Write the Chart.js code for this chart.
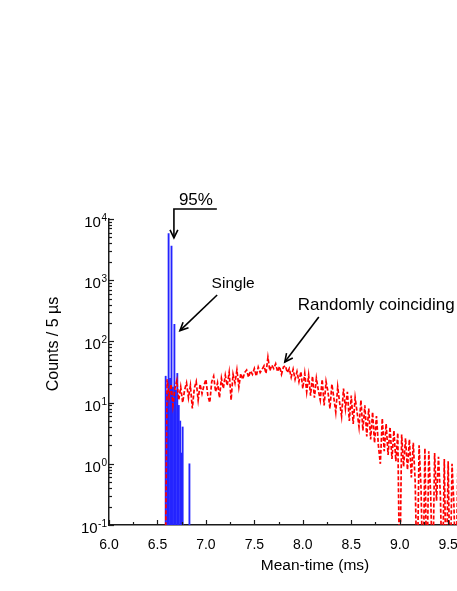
<!DOCTYPE html>
<html>
<head>
<meta charset="utf-8">
<script src="https://cdn.jsdelivr.net/npm/chart.js@4.4.0/dist/chart.umd.min.js"></script>
<style>
  html, body { margin: 0; padding: 0; background: #fff; overflow: hidden; }
  #wrap { width: 530px; height: 591px; }
</style>
</head>
<body>
<div id="wrap"><canvas id="chart" width="530" height="591"></canvas></div>
<script>
'use strict';

// ***** DATA *****
// single events (blue histogram), mean-time in ms
const singleTime = [6.585, 6.600, 6.615, 6.630, 6.645, 6.660, 6.675, 6.690, 6.705, 6.720, 6.735, 6.750, 6.760, 6.830];
const singleCounts = [27, 14, 5800, 25, 3600, 18, 190, 16, 30, 9, 5, 1.5, 4, 1];

// randomly coinciding events (red dashed); 0.01 = empty bin, below the axis
const randomTime = [
  6.58, 6.60, 6.62, 6.64, 6.66, 6.68, 6.70, 6.72, 6.74, 6.76,
  6.78, 6.80, 6.82, 6.84, 6.86, 6.88, 6.90, 6.92, 6.94, 6.96,
  6.98, 7.00, 7.02, 7.04, 7.06, 7.08, 7.10, 7.12, 7.14, 7.16,
  7.18, 7.20, 7.22, 7.24, 7.26, 7.28, 7.30, 7.32, 7.34, 7.36,
  7.38, 7.40, 7.42, 7.44, 7.46, 7.48, 7.50, 7.52, 7.54, 7.56,
  7.58, 7.60, 7.62, 7.64, 7.66, 7.68, 7.70, 7.72, 7.74, 7.76,
  7.78, 7.80, 7.82, 7.84, 7.86, 7.88, 7.90, 7.92, 7.94, 7.96,
  7.98, 8.00, 8.02, 8.04, 8.06, 8.08, 8.10, 8.12, 8.14, 8.16,
  8.18, 8.20, 8.22, 8.24, 8.26, 8.28, 8.30, 8.32, 8.34, 8.36,
  8.38, 8.40, 8.42, 8.44, 8.46, 8.48, 8.50, 8.52, 8.54, 8.56,
  8.58, 8.60, 8.62, 8.64, 8.66, 8.68, 8.70, 8.72, 8.74, 8.76,
  8.78, 8.80, 8.82, 8.84, 8.86, 8.88, 8.90, 8.92, 8.94, 8.96,
  8.98, 9.00, 9.02, 9.04, 9.06, 9.08, 9.10, 9.12, 9.14, 9.16,
  9.18, 9.20, 9.22, 9.24, 9.26, 9.28, 9.30, 9.32, 9.34, 9.36,
  9.38, 9.40, 9.42, 9.44, 9.46, 9.48, 9.50, 9.52, 9.54, 9.56,
  9.58, 9.60
];
const randomCounts = [
  0.01, 24, 12, 20, 9, 17, 23, 11, 18, 10,
  16, 21, 12, 19, 8, 17, 22, 11, 20, 14,
  19, 24, 13, 10, 22, 27, 15, 21, 12, 25,
  17, 28, 19, 31, 11, 29, 21, 34, 18, 30,
  24, 31, 34, 26, 33, 29, 36, 27, 38, 31,
  35, 40, 30, 55, 33, 41, 36, 43, 32, 39,
  29, 38, 40, 31, 36, 26, 35, 24, 32, 22,
  32, 17, 30, 15, 28, 13, 27, 12, 25, 16,
  11, 24, 9, 22, 15, 8, 20, 12, 7, 18,
  10, 6, 17, 8, 15, 5, 13, 4.5, 12, 7,
  4, 11, 3.5, 9, 2.8, 8, 2.5, 7, 2.2, 6,
  2, 1, 5.5, 1.6, 4.5, 1.4, 4, 1.2, 3.5, 1.1,
  3.2, 0.01, 3, 0.9, 2.6, 0.8, 2.5, 0.6, 2.2, 0.5,
  0.01, 2.0, 0.4, 0.01, 1.8, 0.01, 1.6, 0.3, 0.01, 1.5,
  0.25, 1.3, 0.3, 0.01, 1.2, 0.01, 1.1, 0.01, 1.0, 0.2,
  0.01, 0.9
];

const xTickValues = [6.0, 6.5, 7.0, 7.5, 8.0, 8.5, 9.0, 9.5, 10.0];
const xTickLabels = ['6.0', '6.5', '7.0', '7.5', '8.0', '8.5', '9.0', '9.5', '10.0'];
const yTickValues = [0.1, 1, 10, 100, 1000, 10000];
const yTickExponents = ['-1', '0', '1', '2', '3', '4'];

// annotations, placed in data units (ms, counts)
const notes = [
  { text: '95%', x: 6.897, y: 16900, size: 17, align: 'center' },
  { text: 'Single', x: 7.059, y: 745, size: 15.5, align: 'left' },
  { text: 'Randomly coinciding', x: 7.948, y: 326, size: 17, align: 'left' }
];
const arrows = [
  [[7.113, 14560], [6.670, 14560], [6.670, 4900]],
  [[7.116, 573], [6.732, 150]],
  [[8.165, 250], [7.814, 46]]
];

const FONT = '"Liberation Sans", Arial, sans-serif';

// ***** HELPERS *****
function toPx(chart, p) {
  return [chart.scales.x.getPixelForValue(p[0]), chart.scales.y.getPixelForValue(p[1])];
}

function drawArrow(ctx, pts) {
  ctx.beginPath();
  ctx.moveTo(pts[0][0], pts[0][1]);
  for (let i = 1; i < pts.length; i++) {
    ctx.lineTo(pts[i][0], pts[i][1]);
  }
  ctx.stroke();
  let a = pts[pts.length - 2];
  let b = pts[pts.length - 1];
  let ang = Math.atan2(b[1] - a[1], b[0] - a[0]);
  let len = 9;
  let spread = 0.45;
  ctx.beginPath();
  ctx.moveTo(b[0] - len * Math.cos(ang - spread), b[1] - len * Math.sin(ang - spread));
  ctx.lineTo(b[0], b[1]);
  ctx.lineTo(b[0] - len * Math.cos(ang + spread), b[1] - len * Math.sin(ang + spread));
  ctx.stroke();
}

// inward ticks, y labels with exponents, axis titles and arrows
const decorPlugin = {
  id: 'decor',
  afterDraw(chart) {
    const ctx = chart.ctx;
    const area = chart.chartArea;
    const xs = chart.scales.x;
    const ys = chart.scales.y;
    ctx.save();
    ctx.strokeStyle = '#1a1a1a';
    ctx.fillStyle = '#000';
    ctx.lineWidth = 1.2;

    // x ticks
    for (let i = 0; i < xTickValues.length; i++) {
      let p = Math.round(xs.getPixelForValue(xTickValues[i])) + 0.5;
      ctx.beginPath();
      ctx.moveTo(p, area.bottom);
      ctx.lineTo(p, area.bottom - 5);
      ctx.stroke();
      if (i < xTickValues.length - 1) {
        let m = Math.round(xs.getPixelForValue((xTickValues[i] + xTickValues[i + 1]) / 2)) + 0.5;
        ctx.beginPath();
        ctx.moveTo(m, area.bottom);
        ctx.lineTo(m, area.bottom - 3);
        ctx.stroke();
      }
    }

    // y ticks + labels
    for (let i = 0; i < yTickValues.length; i++) {
      let p = Math.round(ys.getPixelForValue(yTickValues[i])) + 0.5;
      ctx.beginPath();
      ctx.moveTo(area.left, p);
      ctx.lineTo(area.left + 5, p);
      ctx.stroke();
      if (i < yTickValues.length - 1) {
        for (let m = 2; m <= 9; m++) {
          let q = Math.round(ys.getPixelForValue(yTickValues[i] * m)) + 0.5;
          ctx.beginPath();
          ctx.moveTo(area.left, q);
          ctx.lineTo(area.left + 3, q);
          ctx.stroke();
        }
      }
      ctx.textAlign = 'right';
      ctx.textBaseline = 'alphabetic';
      ctx.font = '10px ' + FONT;
      let expW = ctx.measureText(yTickExponents[i]).width;
      let right = area.left - 2;
      ctx.fillText(yTickExponents[i], right, p + 1.5);
      ctx.font = '15px ' + FONT;
      ctx.fillText('10', right - expW - 0.5, p + 7.5);
    }

    // axis titles
    ctx.font = '15.5px ' + FONT;
    ctx.textAlign = 'center';
    ctx.textBaseline = 'alphabetic';
    ctx.fillText('Mean-time (ms)', area.left + 206, 570);
    ctx.save();
    ctx.translate(58, area.top + 125);
    ctx.rotate(-Math.PI / 2);
    ctx.font = '16px ' + FONT;
    ctx.fillText('Counts / 5 \u00b5s', 0, 0);
    ctx.restore();

    // annotations
    for (let n of notes) {
      let p = toPx(chart, [n.x, n.y]);
      ctx.font = n.size + 'px ' + FONT;
      ctx.textAlign = n.align;
      ctx.fillText(n.text, p[0], p[1]);
    }
    ctx.lineWidth = 1.6;
    ctx.strokeStyle = '#000';
    for (let a of arrows) {
      drawArrow(ctx, a.map(pt => toPx(chart, pt)));
    }
    ctx.restore();
  }
};

// ***** CHART *****
let ctx = document.getElementById('chart').getContext('2d');

let chartObject = {
  type: 'bar',
  data: {
    datasets: [{
      type: 'line',
      label: 'Randomly coinciding',
      data: randomTime.map((t, i) => ({ x: t, y: randomCounts[i] })),
      borderColor: '#ff0000',
      borderWidth: 1.7,
      borderDash: [4, 2],
      pointRadius: 0,
      tension: 0,
      fill: false,
      order: 0
    },
    {
      type: 'bar',
      label: 'Single',
      data: singleTime.map((t, i) => ({ x: t, y: singleCounts[i] })),
      backgroundColor: '#2424ff',
      borderWidth: 0,
      barThickness: 1.2,
      order: 1
    }]
  },
  options: {
    responsive: false,
    animation: false,
    layout: { padding: { top: 219, right: 14, left: 0, bottom: 0 } },
    plugins: {
      legend: { display: false },
      tooltip: { enabled: false }
    },
    scales: {
      x: {
        type: 'linear',
        min: 6.0,
        max: 10.2,
        offset: false,
        grid: { display: false },
        border: { display: true, color: '#1a1a1a', width: 1.5 },
        afterBuildTicks: s => { s.ticks = xTickValues.map(v => ({ value: v })); },
        afterFit: s => { s.height = 66; },
        ticks: {
          autoSkip: false,
          maxRotation: 0,
          padding: 4,
          color: '#000',
          font: { family: FONT, size: 14 },
          callback: (v) => xTickLabels[xTickValues.indexOf(v)]
        }
      },
      y: {
        type: 'logarithmic',
        min: 0.1,
        max: 10000,
        grid: { display: false },
        border: { display: true, color: '#1a1a1a', width: 1.5 },
        afterBuildTicks: s => { s.ticks = yTickValues.map(v => ({ value: v })); },
        afterFit: s => { s.width = 109; },
        ticks: { display: false }
      }
    }
  },
  plugins: [decorPlugin]
};

new Chart(ctx, chartObject);
</script>
</body>
</html>
